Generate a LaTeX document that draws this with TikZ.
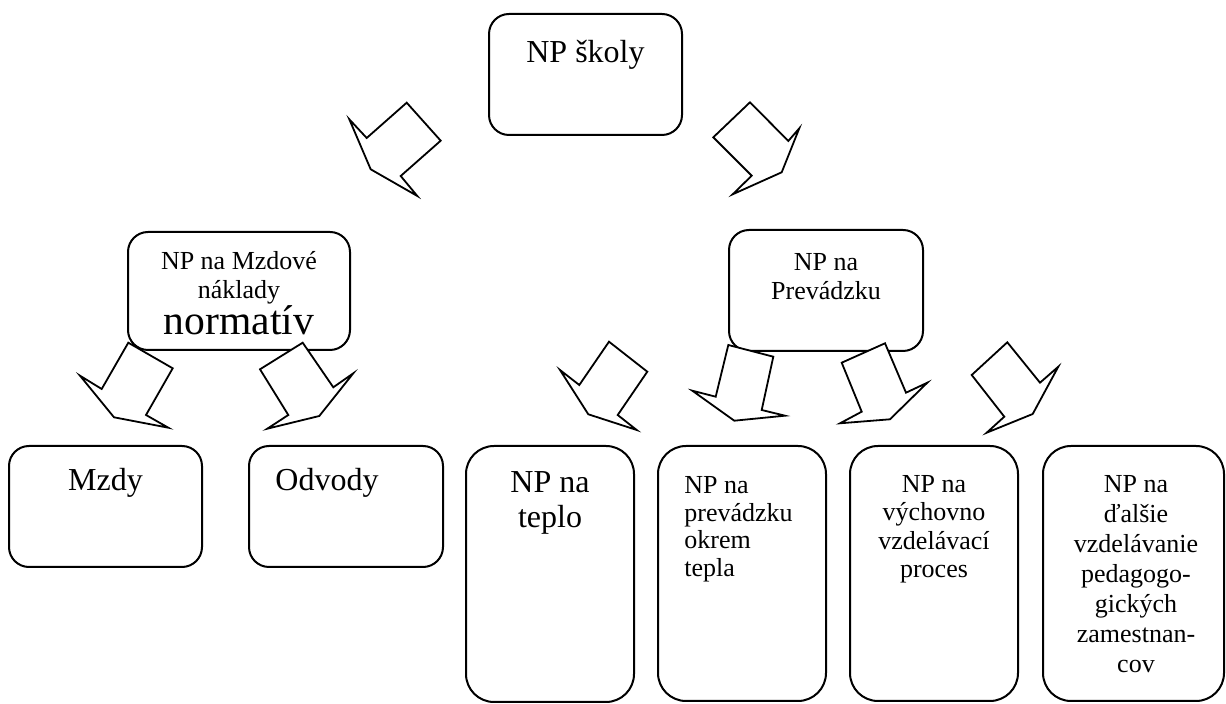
\documentclass[tikz,border=0pt]{standalone}
\usepackage{fontspec}
\setmainfont{Liberation Serif}
\newcommand{\nsize}{\fontsize{13}{14.5}\selectfont}
\newcommand{\bsize}{\fontsize{16}{17.5}\selectfont}
\begin{document}
\begin{tikzpicture}[x=0.5pt,y=-0.5pt,
    box/.style={draw,line width=1pt,rounded corners=10pt},
    tallbox/.style={draw,line width=1pt,rounded corners=14pt},
    blockarr/.style={draw,fill=white,line width=0.9pt,line join=miter},
    lbl/.style={anchor=base,inner sep=0pt,align=center,font=\nsize}]
    \useasboundingbox (0,0) rectangle (1226,704);

    % boxes
    \draw[box] (489,14) rectangle (682,135);
    \draw[box] (128,232) rectangle (350,350);
    \draw[box] (729,230) rectangle (923,351);
    \draw[box] (9,446) rectangle (202,567);
    \draw[box] (249,446) rectangle (443,567);
    \draw[tallbox] (466,446) rectangle (634,702);
    \draw[tallbox] (658,446) rectangle (826,701);
    \draw[tallbox] (850,446) rectangle (1018,701);
    \draw[tallbox] (1043,446) rectangle (1224,701);

    % block arrows
    \draw[blockarr] (406.7,102.7) -- (440.7,140.7) -- (400.7,176) -- (417.3,196)
        -- (370.7,169.3) -- (349.3,119.3) -- (366.7,138) -- cycle;
    \draw[blockarr] (750,102.3) -- (788.3,141) -- (799.3,128.3) -- (781.7,172.3)
        -- (732.7,194.3) -- (751.7,175.7) -- (713.3,137.3) -- cycle;
    \draw[blockarr] (128.3,342.7) -- (172.7,368.3) -- (146,415) -- (168.3,427.7)
        -- (114,417.3) -- (80,375.7) -- (101.7,389) -- cycle;
    \draw[blockarr] (302.7,342.7) -- (333.3,387.3) -- (353.3,373.3) -- (319.3,416)
        -- (267.3,428.7) -- (288.3,415) -- (260,369.3) -- cycle;
    \draw[blockarr] (609,341.7) -- (647.3,371.7) -- (617.7,415) -- (636.7,430)
        -- (588.3,414.3) -- (560,370) -- (579.3,385) -- cycle;
    \draw[blockarr] (728.3,345) -- (773.3,356.7) -- (761.7,410) -- (785,415.7)
        -- (734.3,420.7) -- (692.3,390.7) -- (715.7,396.7) -- cycle;
    \draw[blockarr] (885,343.3) -- (906,392.7) -- (927.3,382.7) -- (890,419.3)
        -- (840,423.3) -- (861.7,411.7) -- (841.7,362.7) -- cycle;
    \draw[blockarr] (1007.3,342.3) -- (1040,382.7) -- (1058.3,366.7) -- (1032.7,414)
        -- (986.7,432.7) -- (1004.3,416.7) -- (971.7,375) -- cycle;

    % texts (base = baseline of the last line)
    \node[lbl,font=\bsize] (skola) at (585.5,63) {NP školy};
    \node[lbl] (mzdnakl) at (239,298.5) {NP na Mzdové\\náklady};
    \node[lbl,font=\fontsize{20.8}{22}\selectfont] (normativ) at (239,335) {normatív};
    \node[lbl] (prevadzka) at (826,300) {NP na\\Prevádzku};
    \node[lbl,font=\bsize] (mzdy) at (105.5,491) {Mzdy};
    \node[lbl,font=\bsize,anchor=base west] (odvody) at (275,491) {Odvody};
    \node[lbl,font=\bsize] (teplo) at (550,528) {NP na\\teplo};
    \node[lbl,anchor=base west,align=left,font=\fontsize{13}{13.75}\selectfont] (okrem) at (684,576.5)
        {NP na\\prevádzku\\okrem\\tepla};
    \node[lbl,font=\fontsize{13}{14.25}\selectfont] (vychova) at (934,578)
        {NP na\\výchovno\\vzdelávací\\proces};
    \node[lbl,font=\fontsize{13}{15}\selectfont] (dalsie) at (1136,673)
        {NP na\\ďalšie\\vzdelávanie\\pedagogo-\\gických\\zamestnan-\\cov};
\end{tikzpicture}
\end{document}
